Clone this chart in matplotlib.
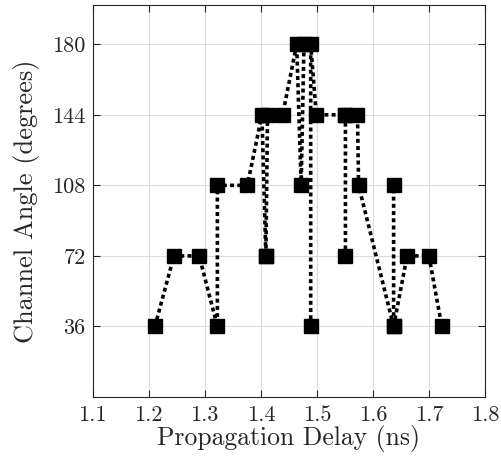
import matplotlib
matplotlib.use("Agg")
import matplotlib.pyplot as plt

plt.rcParams['font.family'] = 'serif'
plt.rcParams['font.serif'] = ['cmr10']
plt.rcParams['mathtext.fontset'] = 'cm'
plt.rcParams['axes.formatter.use_mathtext'] = True

# Data: each branch is a dotted polyline of (delay, angle) points
branch1_x = [1.211, 1.245, 1.290, 1.3225, 1.3225, 1.376, 1.402, 1.409]
branch1_y = [36, 72, 72, 36, 108, 108, 144, 72]
branch2_x = [1.409, 1.412, 1.439, 1.464, 1.472, 1.477]
branch2_y = [72, 144, 144, 180, 108, 180]
branch3_x = [1.489, 1.489, 1.499, 1.551, 1.551]
branch3_y = [36, 180, 144, 144, 72]
branch4_x = [1.551, 1.5725, 1.5745, 1.637, 1.637]
branch4_y = [144, 144, 108, 36, 108]
branch5_x = [1.637, 1.661, 1.700, 1.723]
branch5_y = [36, 72, 72, 36]

branches = [(branch1_x, branch1_y), (branch2_x, branch2_y), (branch3_x, branch3_y),
            (branch4_x, branch4_y), (branch5_x, branch5_y)]

xticks = [1.1, 1.2, 1.3, 1.4, 1.5, 1.6, 1.7, 1.8]
yticks = [36, 72, 108, 144, 180]

fig = plt.figure(figsize=(5.01, 4.59), dpi=100)
ax = fig.add_axes([0.185, 0.135, 0.783, 0.854])

for bx, by in branches:
    ax.plot(bx, by, color='black', linestyle=(0, (1.1, 0.9)), linewidth=2.6,
            marker='s', markersize=9.5, markerfacecolor='black', markeredgecolor='black',
            zorder=3)

ax.set_xlim(1.1, 1.8)
ax.set_ylim(0, 200)
ax.set_xticks(xticks)
ax.set_xticklabels([f"{t:.1f}" for t in xticks])
ax.set_yticks(yticks)
ax.set_yticklabels([str(t) for t in yticks])
ax.grid(True, color='#dcdcdc', linewidth=0.8)
ax.set_axisbelow(True)
ax.tick_params(direction='in', top=True, right=True, length=5, width=0.8,
               labelsize=16, colors='#262626', labelcolor='#262626', pad=6)
ax.tick_params(axis='y', pad=5)
for s in ax.spines.values():
    s.set_color('#262626')
    s.set_linewidth(0.8)

ax.set_xlabel('Propagation Delay (ns)', fontsize=18.5, color='#262626', labelpad=0)
ax.set_ylabel('Channel Angle (degrees)', fontsize=19, color='#262626', labelpad=9)

fig.savefig('out.png', dpi=100)
